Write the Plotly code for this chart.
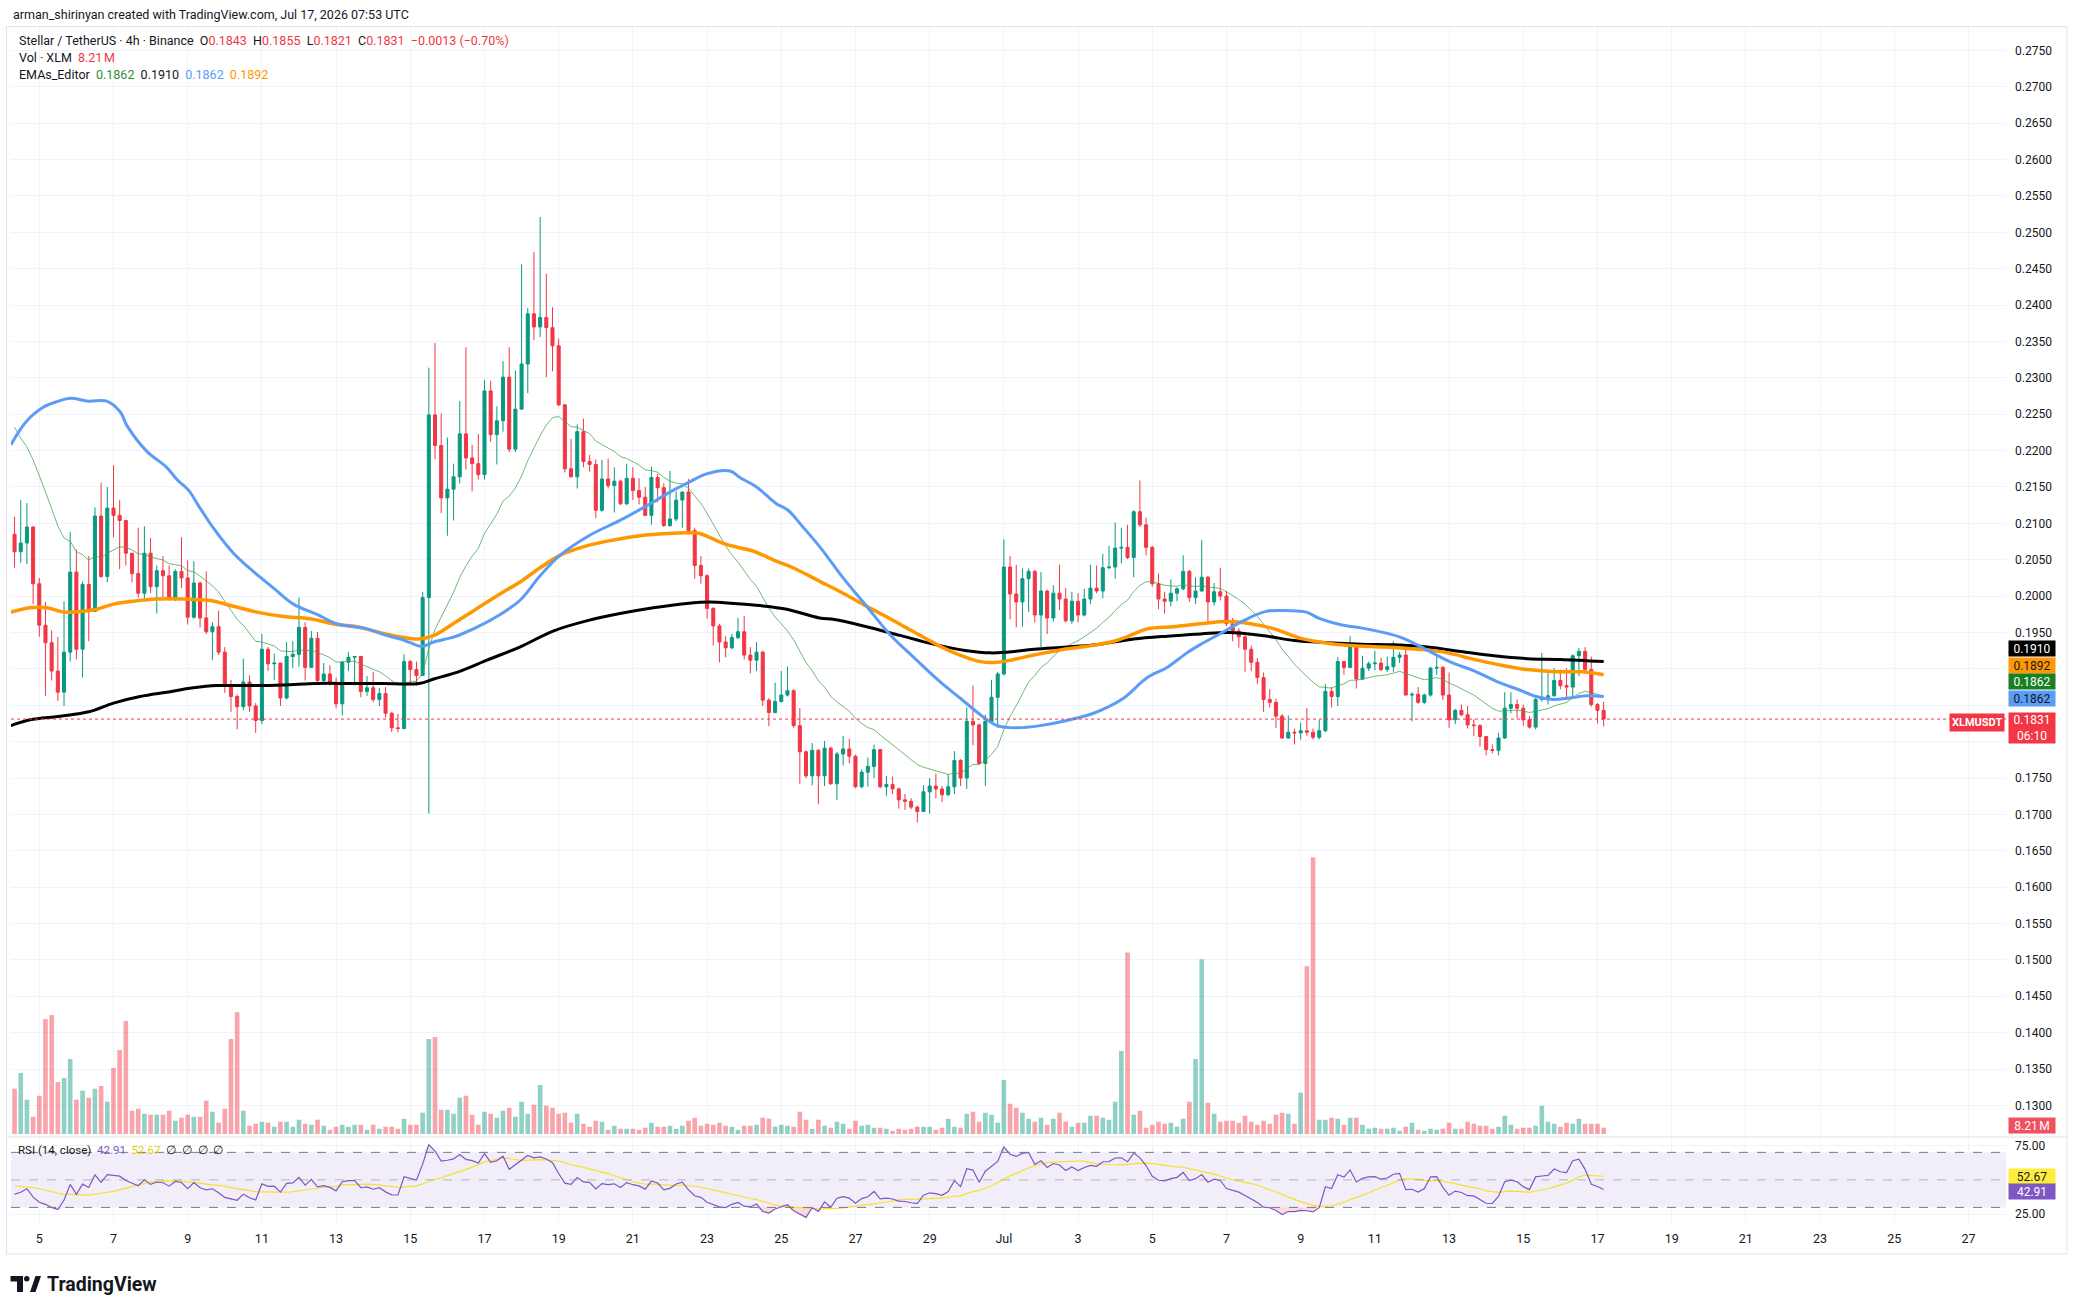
import numpy as np
import pandas as pd
import plotly.graph_objects as go

# ---------------- data ----------------
START = "2026-06-04 08:00"
N = 258
FIRST_OPEN = 0.2085

CLOSE = [
    .2061, .2073, .2095, .2017, .1960, .1936, .1897, .1868, .1923, .2033,
    .1927, .2016, .1979, .2110, .2027, .2121, .2111, .2104, .2059, .2031,
    .2004, .2059, .2013, .2035, .2028, .1996, .2034, .2025, .1971, .2018,
    .1970, .1951, .1958, .1923, .1877, .1862, .1848, .1882, .1849, .1829,
    .1927, .1907, .1908, .1860, .1917, .1920, .1957, .1902, .1942, .1884,
    .1893, .1879, .1852, .1909, .1916, .1917, .1869, .1874, .1858, .1866,
    .1839, .1819, .1818, .1910, .1899, .1891, .1998, .2249, .2207, .2135,
    .2147, .2164, .2223, .2190, .2182, .2167, .2282, .2222, .2241, .2301,
    .2202, .2257, .2319, .2388, .2370, .2383, .2369, .2344, .2263, .2175,
    .2164, .2226, .2185, .2181, .2118, .2161, .2152, .2158, .2127, .2162,
    .2145, .2136, .2111, .2163, .2149, .2097, .2106, .2132, .2143, .2090,
    .2042, .2028, .1983, .1959, .1937, .1929, .1943, .1951, .1919, .1912,
    .1923, .1857, .1840, .1855, .1864, .1870, .1822, .1786, .1753, .1788,
    .1753, .1791, .1742, .1783, .1790, .1780, .1738, .1758, .1766, .1789,
    .1738, .1741, .1735, .1720, .1718, .1710, .1704, .1731, .1739, .1735,
    .1727, .1738, .1774, .1750, .1828, .1823, .1770, .1828, .1861, .1893,
    .2040, .2003, .1992, .2024, .2034, .1974, .2007, .1970, .2004, .1996,
    .1966, .1993, .1974, .1996, .2011, .2007, .2039, .2040, .2066, .2067,
    .2053, .2116, .2098, .2067, .2017, .1996, .1993, .2004, .2010, .2034,
    .1998, .2007, .2026, .1992, .2006, .2000, .1962, .1952, .1944, .1927,
    .1909, .1888, .1858, .1854, .1835, .1805, .1813, .1812, .1815, .1813,
    .1806, .1815, .1869, .1862, .1910, .1902, .1931, .1886, .1901, .1907,
    .1908, .1899, .1903, .1916, .1919, .1864, .1865, .1854, .1864, .1901,
    .1902, .1864, .1830, .1843, .1837, .1823, .1822, .1807, .1789, .1788,
    .1805, .1846, .1851, .1846, .1830, .1820, .1858, .1861, .1863, .1884,
    .1877, .1875, .1918, .1924, .1899, .1851, .1843, .1831,
]

HIGH = [
    .2109, .2132, .2128, .2096, .2025, .1992, .1953, .1944, .1993, .2088,
    .2064, .2020, .2055, .2122, .2156, .2150, .2180, .2132, .2104, .2059,
    .2094, .2096, .2080, .2042, .2055, .2042, .2037, .2081, .2049, .2048,
    .2020, .2034, .1964, .1980, .1930, .1885, .1865, .1914, .1891, .1853,
    .1948, .1930, .1921, .1908, .1937, .1938, .1998, .1964, .1952, .1951,
    .1908, .1905, .1888, .1911, .1923, .1917, .1918, .1890, .1896, .1874,
    .1875, .1841, .1838, .1920, .1912, .1910, .2006, .2314, .2348, .2251,
    .2218, .2182, .2268, .2342, .2208, .2223, .2297, .2296, .2261, .2323,
    .2342, .2310, .2456, .2396, .2473, .2521, .2443, .2397, .2354, .2263,
    .2216, .2236, .2244, .2194, .2188, .2187, .2189, .2177, .2160, .2182,
    .2177, .2162, .2150, .2178, .2168, .2155, .2172, .2144, .2144, .2161,
    .2094, .2055, .2030, .1985, .1962, .1945, .1948, .1970, .1973, .1930,
    .1937, .1925, .1860, .1881, .1897, .1903, .1872, .1846, .1788, .1798,
    .1790, .1801, .1793, .1786, .1808, .1804, .1782, .1762, .1778, .1796,
    .1790, .1753, .1752, .1737, .1728, .1722, .1712, .1740, .1750, .1756,
    .1739, .1755, .1787, .1776, .1847, .1877, .1825, .1837, .1885, .1896,
    .2078, .2055, .2043, .2038, .2038, .2036, .2033, .2009, .2015, .2043,
    .2011, .2006, .2004, .2010, .2043, .2042, .2058, .2069, .2101, .2094,
    .2098, .2118, .2159, .2108, .2069, .2031, .2006, .2023, .2012, .2056,
    .2036, .2026, .2077, .2028, .2018, .2039, .2007, .1970, .1956, .1946,
    .1932, .1915, .1895, .1872, .1859, .1838, .1836, .1818, .1826, .1846,
    .1818, .1830, .1879, .1875, .1916, .1911, .1945, .1932, .1918, .1910,
    .1925, .1915, .1917, .1938, .1923, .1932, .1868, .1875, .1866, .1903,
    .1916, .1904, .1895, .1845, .1851, .1849, .1831, .1824, .1807, .1796,
    .1812, .1868, .1868, .1858, .1851, .1835, .1860, .1922, .1896, .1901,
    .1899, .1901, .1920, .1929, .1930, .1917, .1853, .1855,
]

LOW = [
    .2039, .2046, .2044, .1989, .1944, .1863, .1884, .1856, .1849, .1910,
    .1913, .1888, .1938, .1979, .2025, .2019, .2081, .2037, .2042, .2019,
    .1998, .1997, .2004, .1976, .1994, .1994, .1993, .2011, .1961, .1969,
    .1957, .1948, .1912, .1919, .1867, .1841, .1817, .1843, .1841, .1812,
    .1824, .1897, .1885, .1849, .1858, .1901, .1903, .1884, .1902, .1882,
    .1882, .1877, .1846, .1836, .1897, .1877, .1861, .1863, .1854, .1849,
    .1833, .1813, .1813, .1817, .1878, .1877, .1890, .1701, .2188, .2114,
    .2083, .2104, .2155, .2174, .2144, .2160, .2160, .2212, .2181, .2226,
    .2198, .2198, .2257, .2279, .2352, .2356, .2301, .2309, .2261, .2170,
    .2163, .2148, .2177, .2171, .2107, .2116, .2148, .2115, .2125, .2125,
    .2132, .2126, .2110, .2098, .2129, .2095, .2095, .2103, .2094, .2087,
    .2024, .2017, .1969, .1932, .1909, .1916, .1927, .1941, .1913, .1894,
    .1897, .1849, .1821, .1839, .1854, .1862, .1819, .1742, .1750, .1740,
    .1714, .1739, .1741, .1720, .1767, .1770, .1736, .1736, .1738, .1750,
    .1736, .1725, .1728, .1708, .1706, .1707, .1689, .1703, .1701, .1722,
    .1717, .1725, .1728, .1739, .1735, .1795, .1768, .1739, .1826, .1819,
    .1891, .1968, .1957, .1958, .1978, .1964, .1930, .1948, .1965, .1981,
    .1964, .1962, .1964, .1972, .1989, .2004, .1997, .2037, .2024, .2045,
    .2051, .2026, .2095, .2056, .2013, .1982, .1976, .1986, .1993, .2008,
    .1992, .1989, .2006, .1961, .1987, .1994, .1959, .1938, .1929, .1896,
    .1897, .1879, .1841, .1847, .1819, .1804, .1804, .1796, .1803, .1808,
    .1803, .1803, .1813, .1847, .1849, .1892, .1902, .1873, .1885, .1897,
    .1898, .1897, .1896, .1896, .1908, .1864, .1828, .1852, .1852, .1862,
    .1892, .1857, .1819, .1824, .1835, .1818, .1808, .1793, .1781, .1784,
    .1781, .1804, .1839, .1832, .1822, .1818, .1817, .1855, .1851, .1862,
    .1872, .1860, .1861, .1890, .1894, .1848, .1825, .1821,
]

VOLUME_M = [
    58.8, 79.5, 44.5, 22.5, 49.7, 149.5, 154.7, 67.8, 73.0, 97.6,
    44.5, 56.2, 47.1, 58.8, 62.6, 41.9, 86.0, 109.3, 146.9, 30.2,
    32.8, 26.4, 25.1, 25.1, 25.1, 30.2, 17.3, 21.2, 25.1, 22.5,
    22.5, 43.2, 28.9, 14.7, 32.8, 123.6, 158.5, 30.2, 10.8, 13.4,
    16.0, 14.7, 9.5, 16.0, 16.0, 9.5, 18.6, 13.4, 12.1, 18.6,
    10.8, 5.6, 9.5, 12.1, 9.5, 12.1, 12.1, 5.6, 12.1, 6.9,
    9.5, 9.5, 6.9, 19.9, 12.1, 12.1, 27.6, 123.6, 126.1, 31.5,
    31.5, 26.4, 47.1, 49.7, 25.1, 12.1, 28.9, 26.4, 21.2, 30.2,
    34.1, 22.5, 41.9, 26.4, 38.0, 63.9, 36.7, 34.1, 26.4, 27.6,
    14.7, 26.4, 13.4, 9.5, 17.3, 16.0, 5.6, 10.8, 6.9, 6.9,
    6.9, 5.6, 8.2, 14.7, 9.5, 9.5, 10.8, 6.9, 10.8, 17.3,
    21.2, 10.8, 13.4, 12.1, 14.7, 10.8, 9.5, 5.6, 10.8, 10.8,
    12.1, 21.2, 19.9, 9.5, 12.1, 10.8, 9.5, 28.9, 18.6, 6.9,
    18.6, 10.8, 8.2, 16.0, 13.4, 6.9, 17.3, 10.8, 12.1, 8.2,
    8.2, 6.9, 4.3, 6.9, 5.6, 6.9, 9.5, 9.5, 9.5, 5.6,
    8.2, 19.9, 9.5, 8.2, 26.4, 28.9, 16.0, 27.6, 25.1, 14.7,
    70.4, 39.3, 34.1, 27.6, 19.9, 16.0, 21.2, 12.1, 19.9, 27.6,
    16.0, 9.5, 14.7, 14.7, 23.8, 23.8, 21.2, 18.6, 41.9, 108.0,
    236.3, 25.1, 30.2, 8.2, 12.1, 16.0, 13.4, 14.7, 9.5, 19.9,
    41.9, 97.6, 227.2, 40.6, 26.4, 16.0, 17.3, 17.3, 14.7, 23.8,
    16.0, 12.1, 17.3, 13.4, 25.1, 27.6, 26.4, 13.4, 53.6, 218.2,
    359.9, 18.6, 18.6, 21.2, 19.9, 12.1, 21.2, 21.2, 12.1, 6.9,
    8.2, 6.9, 6.9, 8.2, 4.3, 9.5, 14.7, 5.6, 4.3, 6.9,
    5.6, 6.9, 14.7, 6.9, 6.9, 16.0, 13.4, 10.8, 10.8, 6.9,
    9.5, 23.8, 12.1, 6.9, 8.2, 8.2, 10.8, 36.7, 16.0, 13.4,
    9.5, 14.7, 13.4, 19.9, 13.4, 13.4, 13.4, 8.21,
]

# EMA lines from the EMAs_Editor indicator (bar index, price)
BLUE_IDX = [-0.6, 2.0, 4.7, 7.1, 9.0, 12.0, 14.9, 17.1, 18.2, 21.4, 24.6, 26.3, 28.1, 30.0,
            32.2, 35.4, 38.6, 41.9, 45.1, 48.9, 52.1, 57.0, 59.7, 62.4, 64.0, 65.9, 67.8,
            71.1, 74.2, 78.0, 81.7, 85.0, 88.2, 93.1, 97.9, 102.2, 106.0, 109.2, 111.9,
            115.7, 117.3, 120.0, 123.2, 125.1, 127.5, 130.3, 134.0, 137.8, 141.6, 145.4,
            149.7, 152.9, 156.2, 158.9, 162.1, 165.9, 170.2, 174.5, 176.7, 179.4, 183.2,
            186.4, 189.6, 191.7, 194.9, 198.7, 202.4, 206.2, 208.9, 211.1, 214.3, 218.6,
            224.0, 227.3, 232.1, 236.4, 240.2, 243.4, 246.1, 248.8, 251.5, 254.2, 257]
BLUE_VAL = [.2208, .2241, .2260, .2268, .2272, .2268, .2268, .2253, .2234, .2199, .2177, .2160,
            .2146, .2121, .2093, .2059, .2034, .2011, .1989, .1975, .1962, .1955, .1947, .1941,
            .1936, .1931, .1937, .1944, .1955, .1972, .1994, .2028, .2056, .2084, .2104, .2124,
            .2143, .2157, .2168, .2172, .2163, .2150, .2127, .2118, .2095, .2067, .2025, .1986,
            .1947, .1916, .1882, .1860, .1837, .1822, .1819, .1822, .1829, .1839, .1847, .1860,
            .1888, .1902, .1922, .1933, .1948, .1966, .1979, .1980, .1978, .1969, .1961, .1955,
            .1944, .1931, .1910, .1896, .1881, .1871, .1862, .1858, .1860, .1863, .1862]

ORANGE_IDX = [-0.6, 2.5, 5.2, 8.0, 10.6, 13.3, 16.0, 19.2, 23.0, 27.3, 31.6, 35.4, 39.2, 43.5,
              47.8, 52.1, 55.4, 58.6, 62.4, 65.4, 67.8, 71.1, 74.8, 79.1, 81.7, 85.0, 88.2,
              92.5, 96.8, 101.2, 105.5, 109.2, 110.8, 115.1, 119.4, 123.2, 125.9, 130.3,
              134.0, 137.8, 141.6, 145.4, 149.7, 152.9, 156.2, 158.9, 161.6, 164.9, 169.1,
              173.4, 177.8, 179.9, 183.2, 187.5, 191.8, 196.2, 199.9, 203.7, 208.0, 211.8,
              216.1, 221.5, 226.9, 231.2, 236.1, 240.4, 244.7, 249.1, 253.4, 257]
ORANGE_VAL = [.1978, .1984, .1984, .1978, .1979, .1982, .1989, .1993, .1996, .1996, .1994, .1986,
              .1978, .1972, .1969, .1961, .1958, .1951, .1944, .1941, .1946, .1963, .1983, .2006,
              .2019, .2039, .2056, .2069, .2077, .2083, .2086, .2087, .2086, .2071, .2062, .2048,
              .2039, .2020, .2004, .1986, .1969, .1951, .1931, .1919, .1910, .1909, .1913, .1919,
              .1926, .1931, .1938, .1944, .1955, .1958, .1962, .1965, .1962, .1955, .1942, .1936,
              .1932, .1930, .1927, .1923, .1913, .1905, .1899, .1896, .1896, .1892]

BLACK_IDX = [-0.6, 2.5, 7.4, 12.0, 16.0, 20.3, 24.6, 28.9, 32.7, 38.1, 43.5, 48.9, 54.3, 59.7,
             65.4, 67.8, 72.1, 76.4, 81.7, 87.1, 92.5, 97.9, 103.3, 108.7, 112.5, 116.3, 120.6,
             124.9, 130.2, 132.6, 137.8, 143.2, 148.6, 154.0, 157.8, 160.5, 164.9, 170.2, 175.6,
             181.0, 186.4, 191.8, 196.3, 201.7, 207.0, 212.4, 217.8, 223.2, 228.5, 233.9, 239.3,
             244.7, 250.0, 257]
BLACK_VAL = [.1822, .1830, .1835, .1841, .1853, .1862, .1868, .1874, .1877, .1877, .1878, .1880,
             .1880, .1880, .1880, .1886, .1897, .1912, .1930, .1952, .1966, .1976, .1984, .1990,
             .1992, .1990, .1987, .1982, .1970, .1968, .1958, .1946, .1934, .1925, .1922, .1923,
             .1927, .1930, .1934, .1941, .1945, .1948, .1950, .1946, .1939, .1936, .1934, .1933,
             .1930, .1924, .1918, .1914, .1913, .1910]

GREEN_EMA_LEN = 20
GREEN_EMA_SEED = 0.2250      # value of the thin green EMA at the left edge
RSI_LEN = 14
RSI_SEED_GAIN = 0.0017
RSI_SEED_LOSS = 0.0024
RSI_MA_LEN = 14
RSI_MA_SEED = 46.0

LAST_O, LAST_H, LAST_L, LAST_C = "0.1843", "0.1855", "0.1821", "0.1831"
LAST_CHG = "\u22120.0013 (\u22120.70%)"
LAST_PRICE = 0.1831
LAST_VOL_TXT = "8.21\u202fM"
EMA_TXT = ["0.1862", "0.1910", "0.1862", "0.1892"]
BLACK_LAST, ORANGE_LAST, GREEN_LAST, BLUE_LAST = 0.1910, 0.1892, 0.1862, 0.1862
RSI_TXT, RSI_MA_TXT = 42.91, 52.67
COUNTDOWN = "06:10"
PRICE_TICKS = [round(0.1300 + 0.005 * k, 4) for k in range(30)]
HIDDEN_TICKS = [0.1800, 0.1850, 0.1900]   # covered by the value labels on the price scale

for arr in (CLOSE, HIGH, LOW, VOLUME_M):
    assert len(arr) == N, len(arr)

# ---------------- derived series ----------------
times = pd.date_range(START, periods=N, freq="4h")
t0 = times[0]


def idx_to_time(idx):
    return [t0 + pd.Timedelta(hours=4 * v) for v in idx]


opens = [FIRST_OPEN] + CLOSE[:-1]
highs = [max(h, o, c) for h, o, c in zip(HIGH, opens, CLOSE)]
lows = [min(l, o, c) for l, o, c in zip(LOW, opens, CLOSE)]
up = [c >= o for c, o in zip(CLOSE, opens)]

alpha = 2.0 / (GREEN_EMA_LEN + 1)
e = GREEN_EMA_SEED
green = []
for c in CLOSE:
    e = alpha * c + (1 - alpha) * e
    green.append(e)

ag, al = RSI_SEED_GAIN, RSI_SEED_LOSS
prev = FIRST_OPEN
rsi = []
for c in CLOSE:
    d = c - prev
    prev = c
    ag = (ag * (RSI_LEN - 1) + max(d, 0)) / RSI_LEN
    al = (al * (RSI_LEN - 1) + max(-d, 0)) / RSI_LEN
    rsi.append(100.0 if al == 0 else 100 - 100 / (1 + ag / al))
rsi = np.array(rsi)
rsi_ma = pd.Series([RSI_MA_SEED] * (RSI_MA_LEN - 1) + list(rsi)).rolling(RSI_MA_LEN).mean().values[RSI_MA_LEN - 1:]

# ---------------- styling / layout geometry ----------------
UP = "#089981"
DN = "#F23645"
TXT = "#131722"
GRID = "#F0F3FA"
FONT = "Roboto"
W, H = 2078, 1314
ML, MR, MT, MB = 11, 72, 27, 92
PW, PH = W - ML - MR, H - MT - MB


def px_x(px):
    return (px - ML) / PW


def px_y(py):
    return (H - MB - py) / PH


fig = go.Figure()

fig.add_trace(go.Bar(
    x=times, y=VOLUME_M, yaxis="y3", xaxis="x",
    marker=dict(color=["rgba(8,153,129,0.45)" if u else "rgba(242,54,69,0.45)" for u in up],
                line=dict(width=0)),
    hoverinfo="skip", showlegend=False))

fig.add_trace(go.Candlestick(
    x=times, open=opens, high=highs, low=lows, close=CLOSE, xaxis="x", yaxis="y",
    increasing=dict(line=dict(color=UP, width=1), fillcolor=UP),
    decreasing=dict(line=dict(color=DN, width=1), fillcolor=DN),
    whiskerwidth=0, hoverinfo="skip", showlegend=False))

fig.add_trace(go.Scatter(x=times, y=green, mode="lines", xaxis="x", yaxis="y",
                         line=dict(color="rgba(67,160,71,0.75)", width=1),
                         hoverinfo="skip", showlegend=False))
fig.add_trace(go.Scatter(x=idx_to_time(BLACK_IDX), y=BLACK_VAL, mode="lines", xaxis="x", yaxis="y",
                         line=dict(color="#000000", width=3, shape="spline", smoothing=1.0),
                         hoverinfo="skip", showlegend=False))
fig.add_trace(go.Scatter(x=idx_to_time(ORANGE_IDX), y=ORANGE_VAL, mode="lines", xaxis="x", yaxis="y",
                         line=dict(color="#FF9800", width=3.5, shape="spline", smoothing=1.0),
                         hoverinfo="skip", showlegend=False))
fig.add_trace(go.Scatter(x=idx_to_time(BLUE_IDX), y=BLUE_VAL, mode="lines", xaxis="x", yaxis="y",
                         line=dict(color="#5B9CF6", width=3, shape="spline", smoothing=1.0),
                         hoverinfo="skip", showlegend=False))

# RSI pane fills
fig.add_trace(go.Scatter(x=times, y=[30] * N, mode="lines", xaxis="x", yaxis="y2",
                         line=dict(width=0), hoverinfo="skip", showlegend=False))
fig.add_trace(go.Scatter(x=times, y=np.minimum(rsi, 30), mode="lines", xaxis="x", yaxis="y2",
                         line=dict(width=0), fill="tonexty", fillcolor="rgba(242,54,69,0.18)",
                         hoverinfo="skip", showlegend=False))
fig.add_trace(go.Scatter(x=times, y=[70] * N, mode="lines", xaxis="x", yaxis="y2",
                         line=dict(width=0), hoverinfo="skip", showlegend=False))
fig.add_trace(go.Scatter(x=times, y=np.maximum(rsi, 70), mode="lines", xaxis="x", yaxis="y2",
                         line=dict(width=0), fill="tonexty", fillcolor="rgba(8,153,129,0.15)",
                         hoverinfo="skip", showlegend=False))
fig.add_trace(go.Scatter(x=times, y=rsi_ma, mode="lines", xaxis="x", yaxis="y2",
                         line=dict(color="#F7E02B", width=1.2), hoverinfo="skip", showlegend=False))
fig.add_trace(go.Scatter(x=times, y=rsi, mode="lines", xaxis="x", yaxis="y2",
                         line=dict(color="#7E57C2", width=1.2), hoverinfo="skip", showlegend=False))

date_ticks = pd.date_range("2026-06-05", "2026-07-27", freq="2D")
date_text = ["Jul" if d.day == 1 else str(d.day) for d in date_ticks]

shapes = [
    dict(type="rect", xref="paper", yref="paper", x0=px_x(6.5), x1=px_x(2067), y0=px_y(1254), y1=px_y(26.5),
         line=dict(color="#E0E3EB", width=1), fillcolor="rgba(0,0,0,0)", layer="below"),
    dict(type="line", xref="paper", yref="paper", x0=px_x(6.5), x1=px_x(2067), y0=px_y(1137), y1=px_y(1137),
         line=dict(color="#E0E3EB", width=1)),
    dict(type="rect", xref="paper", yref="y2", x0=0, x1=1, y0=30, y1=70,
         fillcolor="rgba(126,87,194,0.10)", line=dict(width=0), layer="below"),
    dict(type="line", xref="paper", yref="y2", x0=0, x1=1, y0=70, y1=70,
         line=dict(color="#787B86", width=1, dash="dash")),
    dict(type="line", xref="paper", yref="y2", x0=0, x1=1, y0=50, y1=50,
         line=dict(color="rgba(120,123,134,0.5)", width=1, dash="dash")),
    dict(type="line", xref="paper", yref="y2", x0=0, x1=1, y0=30, y1=30,
         line=dict(color="#787B86", width=1, dash="dash")),
    dict(type="line", xref="paper", yref="y", x0=0, x1=1, y0=LAST_PRICE, y1=LAST_PRICE,
         line=dict(color=DN, width=1, dash="dot")),
]

# TradingView logo mark
def rect_path(x0, y0, x1, y1):
    return f"M {px_x(x0)} {px_y(y0)} L {px_x(x1)} {px_y(y0)} L {px_x(x1)} {px_y(y1)} L {px_x(x0)} {px_y(y1)} Z"

for p in [rect_path(10.5, 1276, 23, 1281.5), rect_path(17, 1276, 23, 1292),
          f"M {px_x(30)} {px_y(1292)} L {px_x(35.5)} {px_y(1292)} L {px_x(41)} {px_y(1276)} L {px_x(35.5)} {px_y(1276)} Z"]:
    shapes.append(dict(type="path", xref="paper", yref="paper", path=p, fillcolor=TXT, line=dict(width=0)))
shapes.append(dict(type="circle", xref="paper", yref="paper", x0=px_x(24), x1=px_x(29.5),
                   y0=px_y(1281.5), y1=px_y(1276), fillcolor=TXT, line=dict(width=0)))


def span(t, c):
    return f'<span style="color:{c}">{t}</span>'


S = "\u00a0"
ann = []
ann.append(dict(xref="paper", yref="paper", x=px_x(10.5), y=px_y(14.5), xanchor="left", yanchor="middle",
                showarrow=False, text="arman_shirinyan created with TradingView.com, Jul 17, 2026 07:53 UTC",
                font=dict(family=FONT, size=12.5, color=TXT)))
line1 = (span("Stellar / TetherUS · 4h · Binance" + S * 2 + "O", TXT) + span(LAST_O, DN) + span(S * 2 + "H", TXT)
         + span(LAST_H, DN) + span(S * 2 + "L", TXT) + span(LAST_L, DN) + span(S * 2 + "C", TXT)
         + span(LAST_C, DN) + span(S * 2 + LAST_CHG, DN))
line2 = span("Vol · XLM" + S * 2, TXT) + span(LAST_VOL_TXT, DN)
line3 = (span("EMAs_Editor" + S * 2, TXT) + span(EMA_TXT[0], "#2E8B3A") + span(S * 2 + EMA_TXT[1], TXT)
         + span(S * 2 + EMA_TXT[2], "#5B9CF6") + span(S * 2 + EMA_TXT[3], "#FF9800"))
for t, py in [(line1, 41), (line2, 58), (line3, 75)]:
    ann.append(dict(xref="paper", yref="paper", x=px_x(16.5), y=px_y(py), xanchor="left", yanchor="middle",
                    showarrow=False, text=t, font=dict(family=FONT, size=12.5, color=TXT)))
rsi_head = (span("RSI (14, close)" + S * 2, TXT) + span(f"{RSI_TXT:.2f}", "#7E57C2") + S * 2
            + span(f"{RSI_MA_TXT:.2f}", "#E8CF00") + span(S * 2 + ("∅" + S * 2) * 4, TXT))
ann.append(dict(xref="paper", yref="paper", x=px_x(15.5), y=px_y(1150), xanchor="left", yanchor="middle",
                showarrow=False, text=rsi_head, font=dict(family=FONT, size=11.5, color=TXT)))
ann.append(dict(xref="paper", yref="paper", x=px_x(45), y=px_y(1284), xanchor="left", yanchor="middle",
                showarrow=False, text="<b>TradingView</b>", font=dict(family=FONT, size=19.5, color=TXT)))


def axis_label(yref, val, text, bg, fg, yshift=0, height=15):
    return dict(xref="paper", yref=yref, x=1, y=val, xanchor="left", yanchor="middle", xshift=2,
                yshift=yshift, showarrow=False, text=text, bgcolor=bg, width=46, height=height,
                borderpad=0, align="center", font=dict(family=FONT, size=12, color=fg))


ann.append(axis_label("y", BLACK_LAST, "0.1910", "#000000", "#FFFFFF", yshift=13.5))
ann.append(axis_label("y", ORANGE_LAST, "0.1892", "#FF9800", TXT, yshift=9.5))
ann.append(axis_label("y", GREEN_LAST, "0.1862", "#1B7F24", "#FFFFFF", yshift=15.5))
ann.append(axis_label("y", BLUE_LAST, "0.1862", "#5B9CF6", TXT, yshift=-1.5))
ann.append(axis_label("y", LAST_PRICE, f"{LAST_PRICE:.4f}<br>{COUNTDOWN}", DN, "#FFFFFF", yshift=-9, height=30))
ann.append(dict(xref="paper", yref="y", x=1, y=LAST_PRICE, xanchor="right", yanchor="middle", xshift=-1,
                yshift=-3, showarrow=False, text="<b>XLMUSDT</b>", bgcolor=DN, borderpad=2,
                font=dict(family=FONT, size=11, color="#FFFFFF")))
ann.append(axis_label("y3", VOLUME_M[-1], LAST_VOL_TXT, "#F0515E", "#FFFFFF", yshift=2))
ann.append(axis_label("y2", RSI_MA_TXT, f"{RSI_MA_TXT:.2f}", "#FFEB3B", TXT, yshift=0))
ann.append(axis_label("y2", RSI_TXT, f"{RSI_TXT:.2f}", "#7E57C2", "#FFFFFF", yshift=-2))

price_text = ["" if any(abs(v - h) < 1e-9 for h in HIDDEN_TICKS) else f"{v:.4f}" for v in PRICE_TICKS]

fig.update_layout(
    width=W, height=H, autosize=False,
    margin=dict(l=ML, r=MR, t=MT, b=MB, pad=0),
    paper_bgcolor="#FFFFFF", plot_bgcolor="#FFFFFF",
    hovermode=False, showlegend=False, bargap=0.25,
    font=dict(family=FONT, size=12, color=TXT),
    xaxis=dict(type="date", range=["2026-06-04 05:42", "2026-07-28 00:17"], anchor="y2",
               tickvals=list(date_ticks), ticktext=date_text, showgrid=True, gridcolor=GRID, gridwidth=1,
               zeroline=False, showline=False, ticks="", tickfont=dict(family=FONT, size=12.5, color=TXT),
               ticklabelstandoff=7, rangeslider=dict(visible=False)),
    yaxis=dict(domain=[px_y(1136.5), 1], range=[0.12573, 0.27822], side="right", anchor="x",
               tickvals=PRICE_TICKS, ticktext=price_text, showgrid=True,
               gridcolor=GRID, zeroline=False, showline=False, ticks="", ticklabelstandoff=8,
               tickfont=dict(family=FONT, size=12, color=TXT)),
    yaxis2=dict(domain=[0, px_y(1137.5)], range=[19.4, 80.8], side="right", anchor="x",
                tickvals=[75, 25], ticktext=["75.00", "25.00"], showgrid=True, gridcolor=GRID,
                zeroline=False, showline=False, ticks="", ticklabelstandoff=8,
                tickfont=dict(family=FONT, size=12, color=TXT)),
    yaxis3=dict(overlaying="y", range=[-3.2, 1440], visible=False, fixedrange=True),
    shapes=shapes, annotations=ann,
)

fig.write_html("out.html")
